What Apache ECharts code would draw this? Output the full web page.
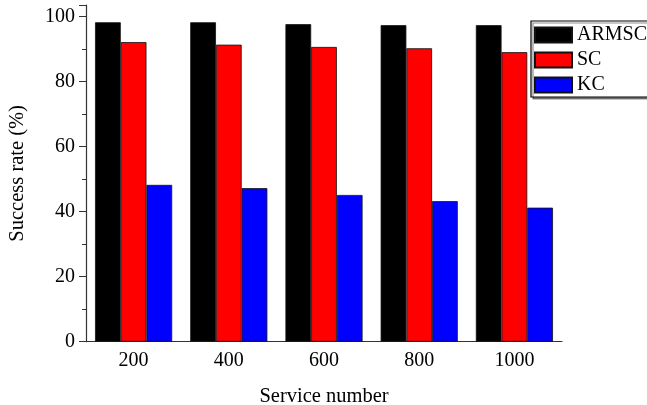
<!DOCTYPE html>
<html>
<head>
<meta charset="utf-8">
<script src="https://cdn.jsdelivr.net/npm/echarts@6/dist/echarts.min.js"></script>
<style>
  html, body { margin: 0; padding: 0; background: #fff; }
  #main { width: 647px; height: 405px; }
</style>
</head>
<body>
<div id="main"></div>
<script>
// data
const categories = ['200', '400', '600', '800', '1000']
const armscValues = [98.2, 98.2, 97.6, 97.3, 97.3]
const scValues = [92.1, 91.3, 90.6, 90.2, 89.0]
const kcValues = [48.2, 47.2, 45.1, 43.2, 41.2]
const yTicks = [0, 20, 40, 60, 80, 100]

const font = 'Liberation Serif'
const axisColor = '#333'

const chart = echarts.init(document.getElementById('main'))

function barSeries (name, data, color) {
  return {
    name: name,
    type: 'bar',
    data: data,
    barWidth: 25.7,
    barGap: '0%',
    itemStyle: {
      color: color,
      borderColor: '#111',
      borderWidth: 0.8
    }
  }
}

const options = {
  backgroundColor: '#fff',
  animation: false,
  textStyle: { fontFamily: font, color: '#000' },
  grid: {
    left: 86,
    right: 85,
    top: 5,
    bottom: 63.3,
    outerBoundsMode: 'none'
  },
  legend: {
    orient: 'vertical',
    left: 531,
    top: 21,
    padding: [4, 2, 2, 3],
    itemWidth: 37,
    itemHeight: 15,
    itemGap: 5,
    itemTextGap: 3,
    borderColor: '#000',
    borderWidth: 1.2,
    shadowColor: 'rgba(0,0,0,0.45)',
    shadowOffsetX: 2,
    shadowOffsetY: 2,
    shadowBlur: 0,
    backgroundColor: '#fff',
    icon: 'rect',
    textStyle: { fontFamily: font, fontSize: 20, color: '#000', lineHeight: 20 },
    data: ['ARMSC', 'SC', 'KC']
  },
  xAxis: [
    {
      type: 'category',
      data: categories,
      name: 'Service number',
      nameLocation: 'middle',
      nameGap: 44,
      nameTextStyle: { fontFamily: font, fontSize: 20.5, color: '#000' },
      axisLine: { lineStyle: { color: axisColor, width: 1.2 } },
      axisTick: { alignWithLabel: true, length: 6, lineStyle: { color: axisColor } },
      axisLabel: { fontFamily: font, fontSize: 20, color: '#000', margin: 9 }
    },
    {
      type: 'category',
      data: categories,
      position: 'bottom',
      axisLine: { show: false },
      axisTick: { length: 3, lineStyle: { color: axisColor } },
      axisLabel: { show: false }
    }
  ],
  yAxis: {
    type: 'value',
    min: yTicks[0],
    max: 103.5,
    interval: 20,
    name: 'Success rate (%)',
    nameLocation: 'middle',
    nameGap: 58,
    nameTextStyle: { fontFamily: font, fontSize: 20.5, color: '#000' },
    axisLine: { show: true, lineStyle: { color: axisColor, width: 1.2 } },
    axisTick: { show: true, length: 7, lineStyle: { color: axisColor } },
    minorTick: { show: true, splitNumber: 2, length: 4, lineStyle: { color: axisColor } },
    splitLine: { show: false },
    axisLabel: {
      fontFamily: font,
      fontSize: 20,
      color: '#000',
      margin: 11,
      formatter: v => (yTicks.indexOf(v) >= 0 ? String(v) : '')
    }
  },
  series: [
    barSeries('ARMSC', armscValues, '#000000'),
    barSeries('SC', scValues, '#ff0000'),
    barSeries('KC', kcValues, '#0000ff')
  ]
}
chart.setOption(options)
</script>
</body>
</html>
